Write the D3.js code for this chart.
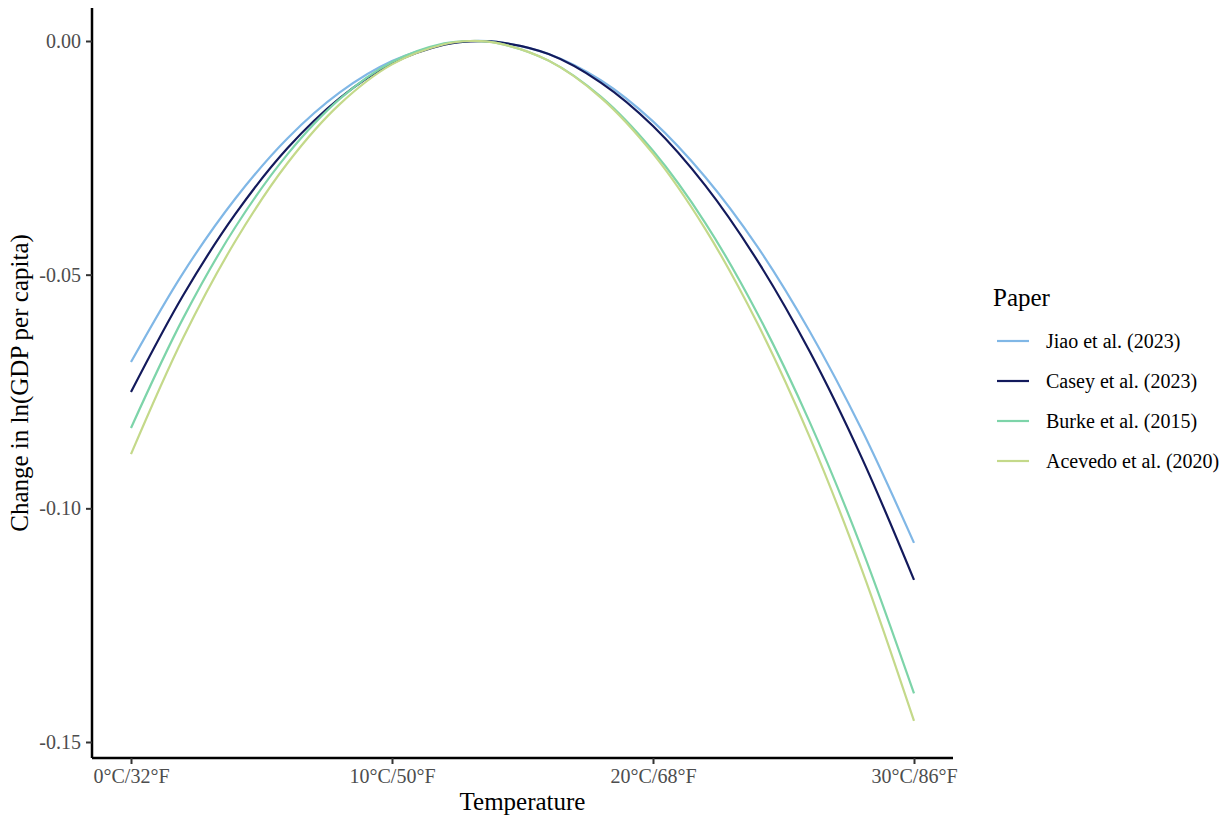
<!DOCTYPE html>
<html>
<head>
<meta charset="utf-8">
<script src="https://d3js.org/d3.v7.min.js"></script>
<style>
    body { margin: 0; background: #fff; }
    svg { display: block; font-family: "Liberation Serif", "DejaVu Serif", serif; }
    .tick text { fill: #4d4d4d; font-size: 20px; }
</style>
</head>
<body>
<svg width="1231" height="815"></svg>
<script>
// temperature (°C) sampled along the curves
var temps = [0, 2, 4, 6, 8, 10, 12, 13, 14, 16, 18, 20, 22, 24, 26, 28, 30];

// change in ln(GDP per capita)
var jiao    = [-0.0687, -0.0496, -0.0337, -0.0208, -0.0110, -0.0043, -0.0007, 0.0000, -0.0002, -0.0028, -0.0084, -0.0172, -0.0291, -0.0440, -0.0621, -0.0832, -0.1074];
var casey   = [-0.0751, -0.0544, -0.0370, -0.0229, -0.0122, -0.0048, -0.0008, -0.0001, -0.0002, -0.0028, -0.0089, -0.0182, -0.0309, -0.0470, -0.0664, -0.0892, -0.1153];
var burke   = [-0.0828, -0.0593, -0.0398, -0.0242, -0.0124, -0.0045, -0.0005, 0.0000, -0.0004, -0.0042, -0.0119, -0.0235, -0.0389, -0.0583, -0.0815, -0.1086, -0.1396];
var acevedo = [-0.0884, -0.0635, -0.0428, -0.0261, -0.0135, -0.0050, -0.0007, 0.0000, -0.0004, -0.0042, -0.0121, -0.0241, -0.0402, -0.0604, -0.0847, -0.1131, -0.1455];

var papers = ["Jiao et al. (2023)", "Casey et al. (2023)", "Burke et al. (2015)", "Acevedo et al. (2020)"];
var colors = ["#80b7e6", "#131a5c", "#7dd4a9", "#c4d98a"];

var xTicks = [0, 10, 20, 30];
var xTickLabels = ["0°C/32°F", "10°C/50°F", "20°C/68°F", "30°C/86°F"];
var yTicks = [0, -0.05, -0.10, -0.15];
var yTickLabels = ["0.00", "-0.05", "-0.10", "-0.15"];

var series = [jiao, casey, burke, acevedo];

var svg = d3.select("svg");

// panel edges
var panelLeft = 92, panelRight = 953, panelTop = 8, panelBottom = 758;

var x = d3.scaleLinear().domain([0, 30]).range([131, 914]);
var y = d3.scaleLinear().domain([0, -0.15]).range([41, 742]);

function styleAxis(g) {
    g.attr("font-family", null).attr("font-size", null);
    g.selectAll(".tick line").attr("stroke", "#333").attr("stroke-width", 2);
}

// Axes
svg.append("g")
    .attr("transform", "translate(0," + panelBottom + ")")
    .call(d3.axisBottom(x)
        .tickValues(xTicks)
        .tickSize(6)
        .tickPadding(5)
        .tickFormat(function(d, i) { return xTickLabels[i]; }))
    .call(styleAxis)
    .call(function(g) {
        g.select(".domain").attr("d", "M" + panelLeft + ",0H" + panelRight)
            .attr("stroke", "#000").attr("stroke-width", 2.5);
    });

svg.append("g")
    .attr("transform", "translate(" + panelLeft + ",0)")
    .call(d3.axisLeft(y)
        .tickValues(yTicks)
        .tickSize(6)
        .tickPadding(5)
        .tickFormat(function(d, i) { return yTickLabels[i]; }))
    .call(styleAxis)
    .call(function(g) {
        g.select(".domain").attr("d", "M0," + panelTop + "V" + panelBottom)
            .attr("stroke", "#000").attr("stroke-width", 2.5);
    });

// Axis titles
svg.append("text")
    .attr("x", (panelLeft + panelRight) / 2)
    .attr("y", 810)
    .attr("text-anchor", "middle")
    .attr("font-size", 25)
    .text("Temperature");

svg.append("text")
    .attr("transform", "translate(28," + ((panelTop + panelBottom) / 2) + ") rotate(-90)")
    .attr("text-anchor", "middle")
    .attr("font-size", 25)
    .text("Change in ln(GDP per capita)");

// Curves
var line = d3.line()
    .x(function(d, i) { return x(temps[i]); })
    .y(function(d) { return y(d); })
    .curve(d3.curveCatmullRom);

svg.append("g")
    .selectAll("path")
    .data(series)
    .enter().append("path")
    .attr("d", line)
    .attr("fill", "none")
    .attr("stroke", function(d, i) { return colors[i]; })
    .attr("stroke-width", 2.2);

// Legend
var legend = svg.append("g").attr("transform", "translate(993,0)");

legend.append("text")
    .attr("x", 0)
    .attr("y", 306)
    .attr("font-size", 25)
    .text("Paper");

var item = legend.selectAll(".item")
    .data(papers)
    .enter().append("g")
    .attr("class", "item")
    .attr("transform", function(d, i) { return "translate(0," + (341 + i * 40) + ")"; });

item.append("line")
    .attr("x1", 4).attr("x2", 36)
    .attr("stroke", function(d, i) { return colors[i]; })
    .attr("stroke-width", 2.2);

item.append("text")
    .attr("x", 53)
    .attr("dy", "0.35em")
    .attr("font-size", 20)
    .text(function(d) { return d; });
</script>
</body>
</html>
